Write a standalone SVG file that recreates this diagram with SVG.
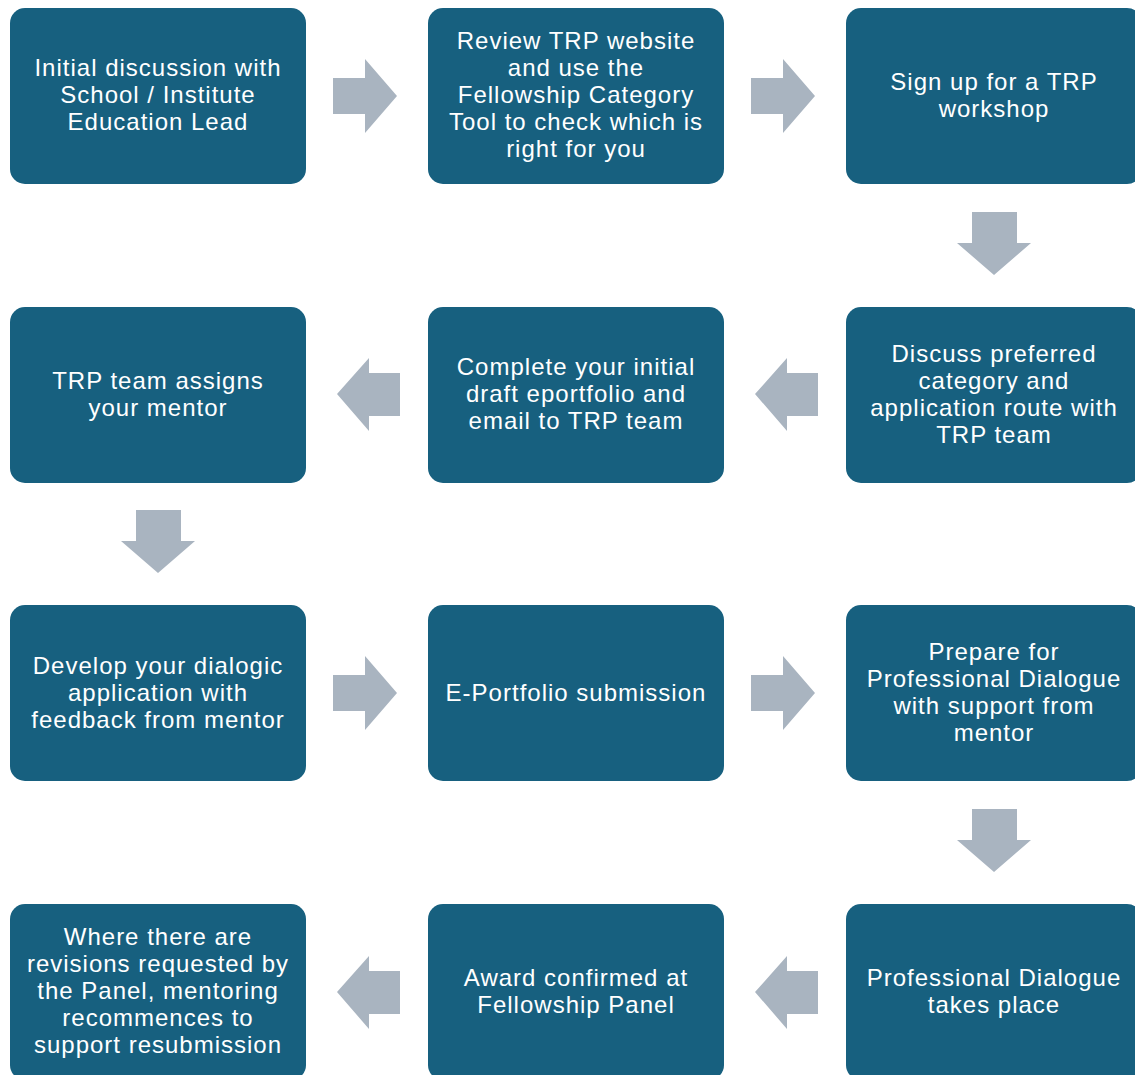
<svg xmlns="http://www.w3.org/2000/svg" width="1135" height="1075" viewBox="0 0 1135 1075">
<style>
.box{fill:#17607F}
.arr{fill:#A9B4C0}
text{font-family:"Liberation Sans",Arial,sans-serif;font-size:24px;fill:#FFFFFF;text-anchor:middle;letter-spacing:1px}
</style>
<rect width="1135" height="1075" fill="#FFFFFF"/>
<g id="connectors">
<polygon class="arr" points="333,78 365,78 365,59 397,96 365,133 365,114 333,114"/>
<polygon class="arr" points="751,78 783,78 783,59 815,96 783,133 783,114 751,114"/>
<polygon class="arr" points="972,212 1017,212 1017,243 1031,243 994,275 957,243 972,243"/>
<polygon class="arr" points="818,373 787,373 787,358 755,394 787,431 787,416 818,416"/>
<polygon class="arr" points="400,373 369,373 369,358 337,394 369,431 369,416 400,416"/>
<polygon class="arr" points="136,510 181,510 181,541 195,541 158,573 121,541 136,541"/>
<polygon class="arr" points="333,675 365,675 365,656 397,693 365,730 365,711 333,711"/>
<polygon class="arr" points="751,675 783,675 783,656 815,693 783,730 783,711 751,711"/>
<polygon class="arr" points="972,809 1017,809 1017,840 1031,840 994,872 957,840 972,840"/>
<polygon class="arr" points="818,971 787,971 787,956 755,992 787,1029 787,1014 818,1014"/>
<polygon class="arr" points="400,971 369,971 369,956 337,992 369,1029 369,1014 400,1014"/>
</g>
<g id="n1"><rect class="box" x="10" y="8" width="296" height="176" rx="15"/>
<text x="158" y="76">Initial discussion with</text><text x="158" y="103">School / Institute</text><text x="158" y="130">Education Lead</text></g>
<g id="n2"><rect class="box" x="428" y="8" width="296" height="176" rx="15"/>
<text x="576" y="49">Review TRP website</text><text x="576" y="76">and use the</text><text x="576" y="103">Fellowship Category</text><text x="576" y="130">Tool to check which is</text><text x="576" y="157">right for you</text></g>
<g id="n3"><rect class="box" x="846" y="8" width="296" height="176" rx="15"/>
<text x="994" y="90">Sign up for a TRP</text><text x="994" y="117">workshop</text></g>
<g id="n4"><rect class="box" x="846" y="307" width="296" height="176" rx="15"/>
<text x="994" y="362">Discuss preferred</text><text x="994" y="389">category and</text><text x="994" y="416">application route with</text><text x="994" y="443">TRP team</text></g>
<g id="n5"><rect class="box" x="428" y="307" width="296" height="176" rx="15"/>
<text x="576" y="375">Complete your initial</text><text x="576" y="402">draft eportfolio and</text><text x="576" y="429">email to TRP team</text></g>
<g id="n6"><rect class="box" x="10" y="307" width="296" height="176" rx="15"/>
<text x="158" y="389">TRP team assigns</text><text x="158" y="416">your mentor</text></g>
<g id="n7"><rect class="box" x="10" y="605" width="296" height="176" rx="15"/>
<text x="158" y="674">Develop your dialogic</text><text x="158" y="701">application with</text><text x="158" y="728">feedback from mentor</text></g>
<g id="n8"><rect class="box" x="428" y="605" width="296" height="176" rx="15"/>
<text x="576" y="701">E-Portfolio submission</text></g>
<g id="n9"><rect class="box" x="846" y="605" width="296" height="176" rx="15"/>
<text x="994" y="660">Prepare for</text><text x="994" y="687">Professional Dialogue</text><text x="994" y="714">with support from</text><text x="994" y="741">mentor</text></g>
<g id="n10"><rect class="box" x="846" y="904" width="296" height="176" rx="15"/>
<text x="994" y="986">Professional Dialogue</text><text x="994" y="1013">takes place</text></g>
<g id="n11"><rect class="box" x="428" y="904" width="296" height="176" rx="15"/>
<text x="576" y="986">Award confirmed at</text><text x="576" y="1013">Fellowship Panel</text></g>
<g id="n12"><rect class="box" x="10" y="904" width="296" height="176" rx="15"/>
<text x="158" y="945">Where there are</text><text x="158" y="972">revisions requested by</text><text x="158" y="999">the Panel, mentoring</text><text x="158" y="1026">recommences to</text><text x="158" y="1053">support resubmission</text></g>
</svg>
